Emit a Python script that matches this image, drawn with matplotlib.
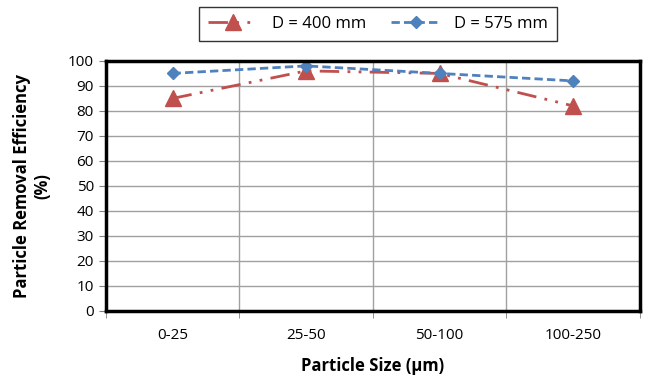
import matplotlib
matplotlib.use("Agg")
import matplotlib.pyplot as plt
import numpy as np

categories = ["0-25", "25-50", "50-100", "100-250"]
d400 = [85, 96, 95, 82]
d575 = [95, 98, 95, 92]

plt.rcParams['font.family'] = ['Open Sans', 'DejaVu Sans']

fig = plt.figure(figsize=(6.49, 3.83), dpi=100)
ax = fig.add_axes([0.163, 0.188, 0.823, 0.653])
x = np.arange(1, len(categories) + 1)

red = "#C0504D"
blue = "#4F81BD"
ax.plot(x, d400, color=red, lw=2, linestyle=(0, (7, 3, 1, 3, 1, 3)),
        marker="^", markersize=11, label="D = 400 mm")
ax.plot(x, d575, color=blue, lw=2, linestyle=(0, (3, 1.5)),
        marker="D", markersize=6, label="D = 575 mm")

ax.set_xlim(0.5, len(categories) + 0.5)
ax.set_ylim(0, 100)
ax.set_yticks(np.arange(0, 101, 10))
ax.set_xticks(x)
ax.set_xticklabels(categories)
ax.set_xticks(np.arange(0.5, len(categories) + 1, 1), minor=True)
ax.tick_params(axis='x', which='major', length=0, pad=12, labelsize=11)
ax.tick_params(axis='x', which='minor', length=5, color='#808080')
ax.tick_params(axis='y', length=5, color='#808080', labelsize=11)
ax.grid(axis='y', color='#A0A0A0', lw=1)
ax.grid(axis='x', which='minor', color='#A0A0A0', lw=1)
ax.set_axisbelow(True)
for s in ax.spines.values():
    s.set_linewidth(2.5)
    s.set_color('black')

ax.set_xlabel("Particle Size (µm)", fontsize=12, fontweight='bold', labelpad=10)
ax.set_ylabel("Particle Removal Efficiency\n(%)", fontsize=12, fontweight='bold', labelpad=12)

leg = fig.legend(loc='center', bbox_to_anchor=(0.583, 0.937), ncol=2, frameon=True,
                 fancybox=False, edgecolor='black', fontsize=12, handlelength=3.0,
                 columnspacing=1.5, borderpad=0.55)
leg.get_frame().set_linewidth(1)

fig.savefig("out.png", dpi=100)
